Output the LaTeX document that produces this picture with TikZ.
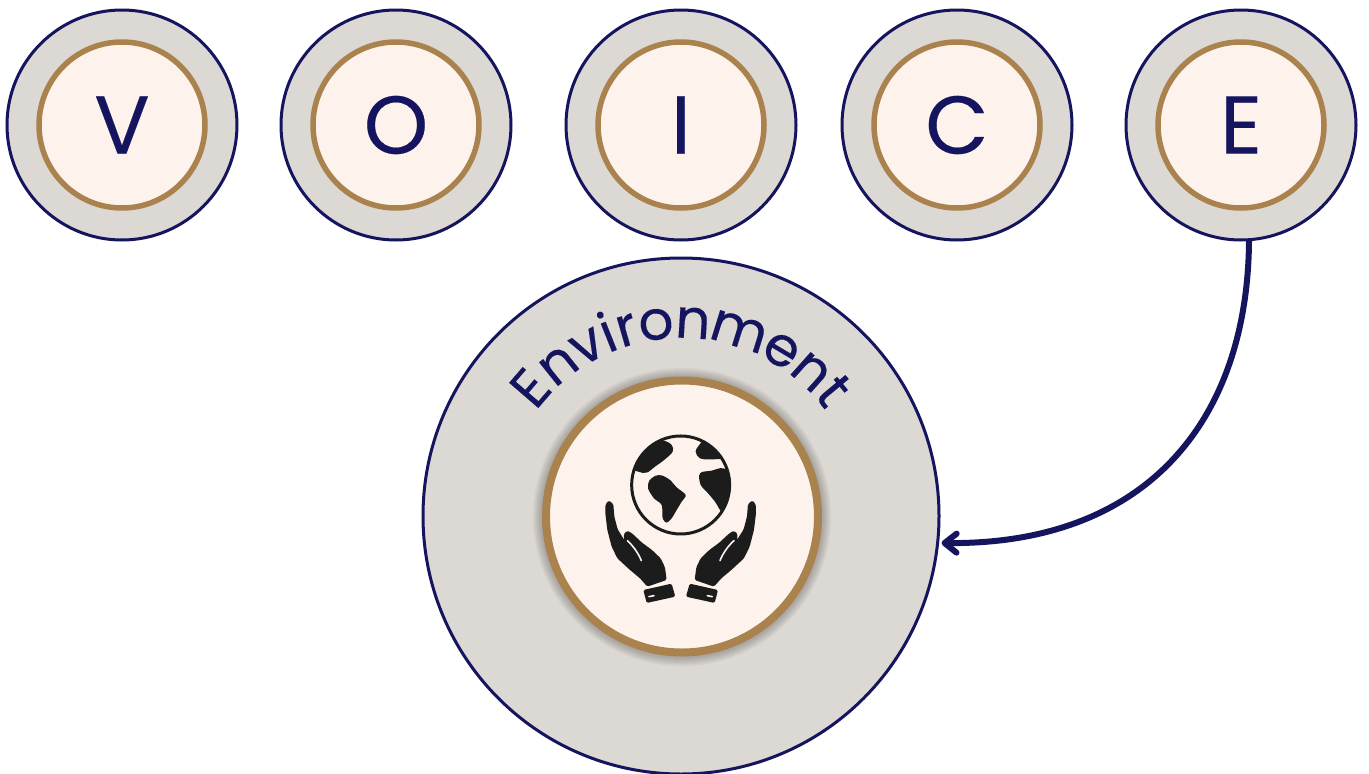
\documentclass[tikz,border=0pt]{standalone}
\usepackage{fontspec}
\setmainfont{Poppins}
\newfontfamily\heavier[FakeBold=0.25]{Poppins}
\usetikzlibrary{arrows.meta,calc}
\definecolor{navy}{HTML}{14145F}
\definecolor{disc}{HTML}{DCD8D3}
\definecolor{cream}{HTML}{FDF3EC}
\definecolor{brown}{HTML}{A9824E}
\definecolor{ink}{HTML}{1C1C1C}
\tikzset{
  outerdisc/.style={circle,draw=navy,line width=3pt,fill=disc,minimum size=230pt,inner sep=0pt,outer sep=0pt},
  letterdisc/.style={circle,draw=brown,line width=5.5pt,fill=cream,minimum size=166pt,inner sep=0pt,outer sep=0pt,text=navy,font=\heavier\fontsize{82}{82}\selectfont},
  bigdisc/.style={circle,draw=navy,line width=3pt,fill=disc,minimum size=516pt,inner sep=0pt,outer sep=0pt},
  emblem/.style={circle,draw=brown,line width=8pt,fill=cream,minimum size=272pt,inner sep=0pt,outer sep=0pt},
  halo/.style={circle,fill=black,fill opacity=0.04,minimum size=#1,inner sep=0pt,outer sep=0pt},
  archletter/.style={anchor=base,inner sep=0pt,outer sep=0pt,text=navy,font=\heavier\fontsize{55}{55}\selectfont},
  link/.style={draw=navy,line width=6pt,shorten >=4pt,-{Straight Barb[length=12pt,width=19pt,line width=6pt,round]}},
  land/.style={fill=ink,draw=none},
  crease/.style={draw=cream,line width=1.6pt,line cap=round}
}
\newcommand{\handicon}{%
  \fill[land,rounded corners=1.5pt] (226,405) -- (236,391) -- (250,402) -- (253,440) -- (263,478) -- (283,510)
    -- (281,492) -- (292,482) -- (306,490) -- (336,518) -- (366,540) -- (392,565) -- (405,592) -- (410,630)
    -- (352,650) -- (330,625) -- (300,600) -- (262,565) -- (245,530) -- (232,480) -- (226,430) -- cycle;
  \draw[crease] (292,512) .. controls (312,530) and (326,552) .. (334,572);
  \fill[land,rounded corners=1.5pt] (340,660) -- (425,641) -- (436,680) -- (350,699) -- cycle;
  \draw[crease] (357,680) -- (372,677);
}
\begin{document}
\begin{tikzpicture}[x=1pt,y=-1pt]
\useasboundingbox (0,0) rectangle (1369,774);
\fill[white] (0,0) rectangle (1369,774);
% top row
\node[outerdisc] (V) at (122,125) {};
\node[outerdisc] (O) at (396,125) {};
\node[outerdisc] (I) at (681,125) {};
\node[outerdisc] (C) at (957,125) {};
\node[outerdisc] (E) at (1241,125) {};
\node[letterdisc] (Vl) at (V) {V};
\node[letterdisc] (Ol) at (O) {O};
\node[letterdisc] (Il) at (I) {I};
\node[letterdisc] (Cl) at (C) {C};
\node[letterdisc] (El) at (E) {E};
% big circle
\node[bigdisc] (env) at (681,516) {};
\coordinate (arccentre) at (681,518);
% arched word: letter / centre of its advance (em) / index
\foreach \ch/\c/\i in {E/0.29/1,n/0.89/2,v/1.465/3,i/1.86/4,r/2.18/5,o/2.68/6,n/3.30/7,m/4.085/8,e/4.865/9,n/5.48/10,t/5.97/11}{
  \pgfmathsetmacro{\ang}{90+(3.10-\c)*55/180*57.2958}
  \pgfmathsetmacro{\tilt}{\ang-90}
  \node[archletter,rotate=\tilt] (letter\i) at ($(arccentre)+(\ang:180pt)$) {\ch};
}
% emblem
\foreach \s in {298pt,295pt,292pt,289pt,286pt,283pt}{
  \node[halo=\s] at (682,517) {};
}
\node[emblem] (emb) at (682,516.5) {};
% globe and hands, in the crop's coordinates
\begin{scope}[shift={(530,370)},x=0.3333pt,y=-0.3333pt]
  \begin{scope}
    \clip (452,345) circle (50pt);
    \fill[land] plot[smooth cycle,tension=0.6] coordinates {(400,212) (425,225) (428,245) (405,268) (375,290) (350,308) (325,305) (300,290) (325,245) (360,215)};
    \fill[land] plot[smooth cycle,tension=0.6] coordinates {(510,222) (497,245) (510,265) (540,268) (585,262) (570,225) (530,205)};
    \fill[land] plot[smooth cycle,tension=0.6] coordinates {(510,310) (545,302) (580,295) (615,320) (612,370) (590,410) (575,425) (555,395) (530,365) (512,345)};
    \fill[land] plot[smooth cycle,tension=0.5] coordinates {(358,332) (375,318) (395,316) (420,330) (440,352) (467,375) (455,395) (440,420) (425,445) (410,458) (398,445) (395,405) (372,385) (354,355)};
  \end{scope}
  \draw[ink,line width=3pt] (452,345) circle (49pt);
  \handicon
  \begin{scope}[shift={(904,0)},xscale=-1]
    \handicon
  \end{scope}
\end{scope}
% connector
\draw[link] (E.-86.5) .. controls (1248,420) and (1147,545) .. (env.-6.4);
\end{tikzpicture}
\end{document}
